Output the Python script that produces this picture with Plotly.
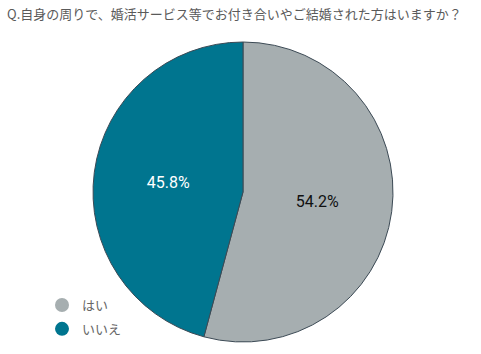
import plotly.graph_objects as go

labels = ["はい", "いいえ"]
values = [54.2, 45.8]
colors = ["#a6aeb0", "#00758f"]
text_colors = ["#111111", "#ffffff"]
title = "Q.自身の周りで、婚活サービス等でお付き合いやご結婚された方はいますか？"

W, H = 481, 354
font = "Noto Sans CJK JP, Roboto, sans-serif"

fig = go.Figure()
fig.add_trace(go.Pie(
    labels=labels, values=values, sort=False, direction="clockwise", rotation=0,
    marker=dict(colors=colors, line=dict(color="#3c4a55", width=1)),
    texttemplate="%{value:.1f}%", textposition="inside",
    insidetextfont=dict(color=text_colors, size=16, family="Roboto, Arial, sans-serif"),
    domain=dict(x=[93 / W, 393 / W], y=[1 - 342 / H, 1 - 42 / H]),
    showlegend=False, hoverinfo="label+percent",
))
for lab, col in zip(labels, colors):
    fig.add_trace(go.Scatter(
        x=[None], y=[None], mode="markers", name=lab, legendgroup=lab,
        marker=dict(symbol="circle", size=14, color=col),
    ))

fig.update_layout(
    width=W, height=H, margin=dict(l=0, r=0, t=0, b=0),
    paper_bgcolor="white", plot_bgcolor="white",
    title=dict(text=title, x=7 / W, xanchor="left", y=1 - 14 / H, yanchor="middle",
               font=dict(family=font, size=13, color="#5a5a5a")),
    xaxis=dict(visible=False), yaxis=dict(visible=False),
    legend=dict(x=42 / W, y=1 - 290 / H, xanchor="left", yanchor="top",
                font=dict(family=font, size=13, color="#666666"),
                tracegroupgap=4, itemwidth=30, bgcolor="rgba(0,0,0,0)"),
    font=dict(family=font),
)
fig.write_html("out.html")
